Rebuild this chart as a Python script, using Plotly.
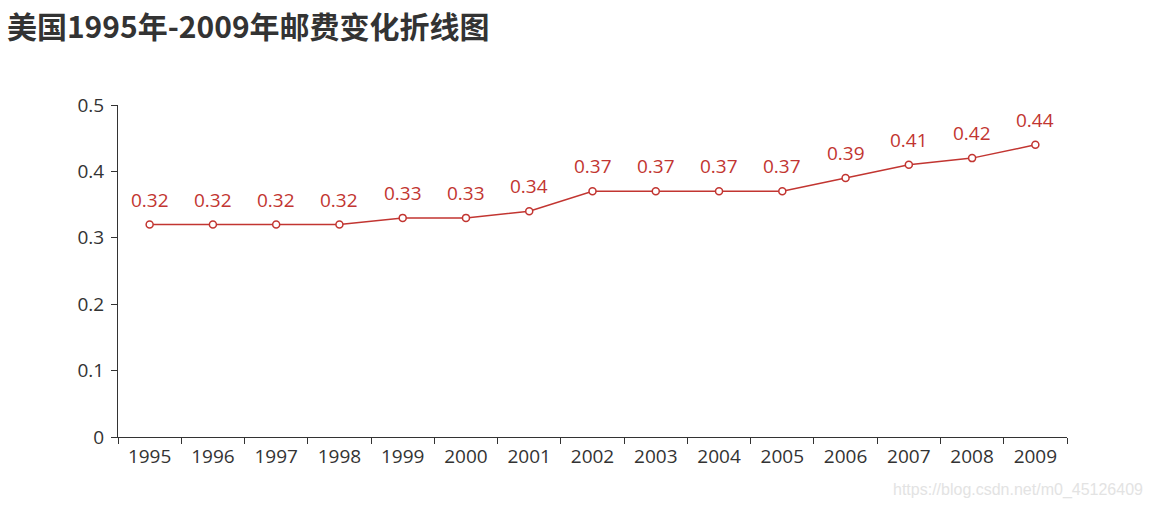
import plotly.graph_objects as go

years = ["1995", "1996", "1997", "1998", "1999", "2000", "2001", "2002",
         "2003", "2004", "2005", "2006", "2007", "2008", "2009"]
postage = [0.32, 0.32, 0.32, 0.32, 0.33, 0.33, 0.34, 0.37,
           0.37, 0.37, 0.37, 0.39, 0.41, 0.42, 0.44]

red = "#c23531"
axis_color = "#333333"
num_font = "Open Sans, Noto Sans CJK SC, sans-serif"
title_font = "Noto Sans CJK SC, sans-serif"

fig = go.Figure()
fig.add_trace(go.Scatter(
    x=years, y=postage,
    mode="lines+markers",
    line=dict(color=red, width=1.5),
    marker=dict(symbol="circle", size=7, color="white",
                line=dict(color=red, width=1.5)),
    cliponaxis=False,
    showlegend=False,
))

annotations = [dict(x=i, y=v, xref="x", yref="y", text=str(v), showarrow=False,
                    xanchor="center", yanchor="middle", yshift=25,
                    font=dict(size=19, color=red, family=num_font))
               for i, v in enumerate(postage)]
annotations.append(dict(text="https://blog.csdn.net/m0_45126409",
                        xref="paper", yref="paper", x=1.082, y=-0.16,
                        xanchor="right", yanchor="middle", showarrow=False,
                        font=dict(size=16, color="#e3e3e3",
                                  family="Liberation Sans, Arial, sans-serif")))

fig.update_layout(
    width=1153, height=508,
    margin=dict(l=118, r=86, t=105, b=71),
    paper_bgcolor="white", plot_bgcolor="white",
    font=dict(family=num_font, color=axis_color, size=19),
    title=dict(text="<b>美国1995年-2009年邮费变化折线图</b>",
               x=0.006, xanchor="left", y=0.945, yanchor="middle",
               font=dict(size=30, color="#333333", family=title_font)),
    xaxis=dict(type="category", range=[-0.5, 14.5],
               showline=True, linecolor=axis_color, linewidth=1,
               ticks="outside", tickson="boundaries", ticklen=6,
               tickcolor=axis_color, showgrid=False, zeroline=False,
               ticklabelstandoff=2,
               tickfont=dict(size=19, color=axis_color, family=num_font)),
    yaxis=dict(range=[0, 0.5], dtick=0.1, tick0=0,
               showline=True, linecolor=axis_color, linewidth=1,
               ticks="outside", ticklen=6, tickcolor=axis_color,
               showgrid=False, zeroline=False, ticklabelstandoff=3,
               tickfont=dict(size=19, color=axis_color, family=num_font)),
    annotations=annotations,
)

fig.write_html("out.html")
